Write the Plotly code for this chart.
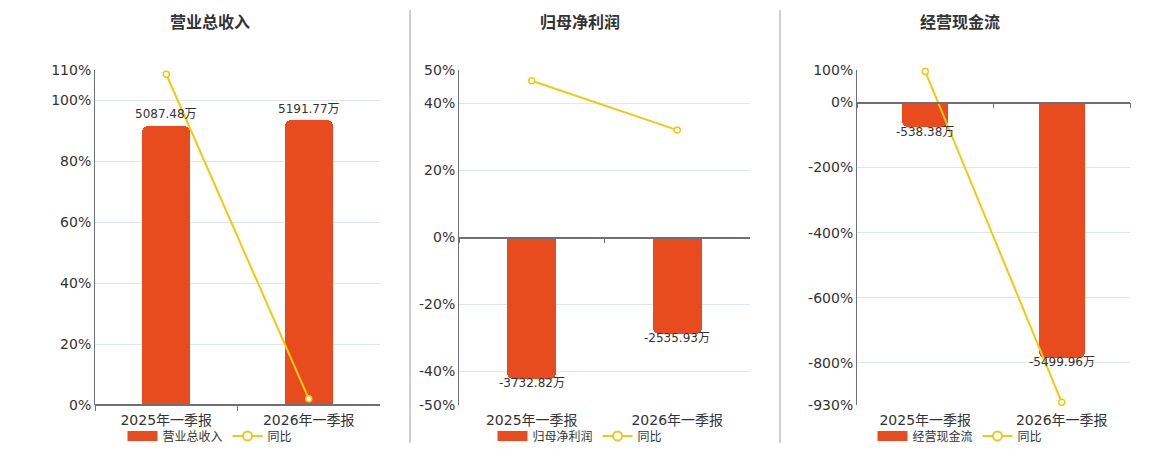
import plotly.graph_objects as go

W, H = 1160, 450
OFF = 8          # page body margin in the browser
MT, MB = 8, 8    # vertical figure margins
PH = H - MT - MB

# data
quarters = ["2025年一季报", "2026年一季报"]
titles = ["营业总收入", "归母净利润", "经营现金流"]
revenue = [5087.48, 5191.77]
revenue_yoy = [108.6, 2.05]
net_profit = [-3732.82, -2535.93]
net_profit_yoy = [46.8, 32.06]
cash_flow = [-538.38, -5499.96]
cash_flow_yoy = [95.6, -921.6]

pct_ticks = [
    [0, 20, 40, 60, 80, 100, 110],
    [-50, -40, -20, 0, 20, 40, 50],
    [-930, -800, -600, -400, -200, 0, 100],
]

bar_color = "#E84C1E"
line_color = "#F2C811"
font_fam = "DejaVu Sans, Noto Sans CJK SC, sans-serif"


def fx(px):
    return (px - OFF) / W


def fy(py):
    return 1 - (py - OFF - MT) / PH


panels = [
    dict(bars=revenue, yoy=revenue_yoy, pct_range=[0, 110], bar_range=[0, 6105],
         xpx=[95, 380], center=210),
    dict(bars=net_profit, yoy=net_profit_yoy, pct_range=[-50, 50], bar_range=[-4420, 4420],
         xpx=[459, 750], center=580),
    dict(bars=cash_flow, yoy=cash_flow_yoy, pct_range=[-930, 100], bar_range=[-6520, 690],
         xpx=[857, 1130], center=960),
]

ydom = [fy(405), fy(70)]

fig = go.Figure()
layout = {}
annotations = []
shapes = []

for i, p in enumerate(panels):
    n_main = 2 * i + 1          # main x / bar y
    n_over = 2 * i + 2          # overlay x / percent y
    xm = "x" if n_main == 1 else f"x{n_main}"
    ym = "y" if n_main == 1 else f"y{n_main}"
    xdom = [fx(p["xpx"][0]), fx(p["xpx"][1])]
    lo, hi = p["pct_range"]
    zero_pos = ydom[0] + (0 - lo) / (hi - lo) * (ydom[1] - ydom[0])
    leg = "legend" if i == 0 else f"legend{i + 1}"

    fig.add_trace(go.Bar(
        x=quarters, y=p["bars"], xaxis=xm, yaxis=ym, name=titles[i],
        marker=dict(color=bar_color, cornerradius=6, line=dict(width=0)),
        width=0.34, showlegend=False,
    ))
    fig.add_trace(go.Scatter(
        x=quarters, y=p["yoy"], xaxis=f"x{n_over}", yaxis=f"y{n_over}", name="同比",
        mode="lines+markers", line=dict(color=line_color, width=2),
        marker=dict(symbol="circle", size=6, color="white",
                    line=dict(color=line_color, width=1.5)),
        cliponaxis=False, showlegend=False,
    ))
    # legend entries (echarts-like symbols)
    fig.add_trace(go.Scatter(
        x=[None], y=[None], xaxis=xm, yaxis=ym, name=titles[i], mode="lines",
        line=dict(color=bar_color, width=14), legend=leg,
    ))
    fig.add_trace(go.Scatter(
        x=[None], y=[None], xaxis=xm, yaxis=ym, name="同比", mode="lines+markers",
        line=dict(color=line_color, width=2),
        marker=dict(symbol="circle", size=9, color="white",
                    line=dict(color=line_color, width=2)),
        legend=leg,
    ))

    for q, v in zip(quarters, p["bars"]):
        annotations.append(dict(
            text=f"{v:.2f}万", x=q, y=v, xref=xm, yref=ym, showarrow=False,
            yshift=11.5 if v >= 0 else -4.5, font=dict(size=12, color="#333"),
            xanchor="center", yanchor="middle",
        ))

    key_xm = "xaxis" if n_main == 1 else f"xaxis{n_main}"
    key_ym = "yaxis" if n_main == 1 else f"yaxis{n_main}"
    layout[key_xm] = dict(
        domain=xdom, anchor=ym, type="category", range=[-0.5, 1.5],
        showline=False, showgrid=False, zeroline=False, ticks="",
        ticklabelstandoff=5, tickfont=dict(size=14, color="#333"),
    )
    layout[key_ym] = dict(domain=ydom, anchor=xm, range=p["bar_range"], visible=False)
    layout[f"xaxis{n_over}"] = dict(
        overlaying=xm, anchor="free", position=zero_pos, type="category",
        range=[-0.5, 1.5], showline=True, linecolor="#6E7079", linewidth=1.5,
        ticks="outside", tickson="boundaries", ticklen=5, tickcolor="#6E7079",
        showticklabels=False, showgrid=False, zeroline=False,
    )
    layout[f"yaxis{n_over}"] = dict(
        overlaying=ym, anchor=xm, side="left", range=p["pct_range"],
        tickmode="array", tickvals=pct_ticks[i],
        ticktext=[f"{t}%" for t in pct_ticks[i]],
        showgrid=True, gridcolor="#E0E6F1", gridwidth=1, zeroline=False,
        showline=True, linecolor="#6E7079", linewidth=1, ticks="",
        tickfont=dict(size=14, color="#333"),
    )
    layout[leg] = dict(
        orientation="h", x=fx(p["center"]), xanchor="center",
        y=fy(436), yanchor="middle", font=dict(size=12, color="#333"),
        bgcolor="rgba(0,0,0,0)", itemwidth=30, tracegroupgap=0,
    )
    annotations.append(dict(
        text=f"<b>{titles[i]}</b>", x=fx(p["center"]), y=fy(22),
        xref="paper", yref="paper", showarrow=False,
        font=dict(size=16, color="#333"), xanchor="center", yanchor="middle",
    ))

for sx in [410, 780]:
    shapes.append(dict(type="line", xref="paper", yref="paper",
                       x0=fx(sx), x1=fx(sx), y0=fy(443), y1=fy(10),
                       line=dict(color="#A0A0A0", width=1)))

fig.update_layout(
    width=W, height=H,
    margin=dict(l=0, r=0, t=MT, b=MB),
    paper_bgcolor="white", plot_bgcolor="white",
    font=dict(family=font_fam, color="#333"),
    annotations=annotations, shapes=shapes,
    showlegend=True, bargap=0,
    **layout,
)

fig.write_html("out.html")
